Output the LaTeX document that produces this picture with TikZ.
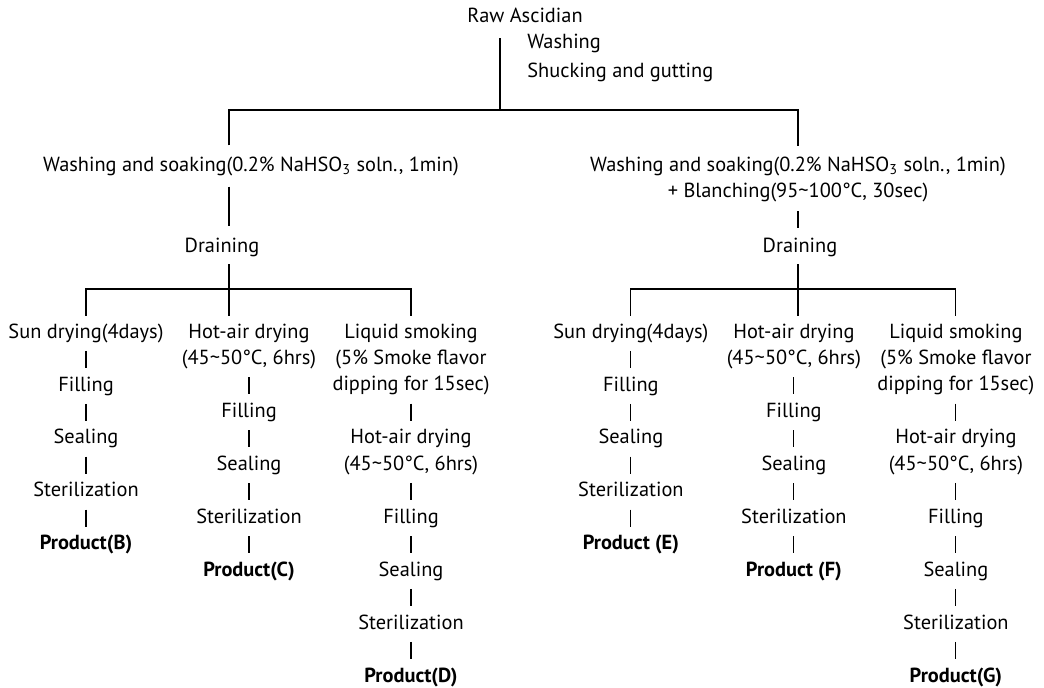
\documentclass[tikz,border=0pt]{standalone}
\usepackage{fontspec}
\setmainfont{PT Sans}
\usepackage{tikz}
\usetikzlibrary{positioning,calc}
\newcommand{\stepfont}{\fontsize{11.6}{15}\selectfont}
\tikzset{
    stage/.style={inner sep=0pt, text height=8.4pt, text depth=2.6pt},
    stagebox/.style={inner sep=0pt, align=center},
    prod/.style={stage, font=\stepfont\bfseries},
    link/.style={line width=0.6pt},
    trim/.style={shorten <=#1, shorten >=#1},
    trim/.default=4.5pt
}

\begin{document}
\begin{tikzpicture}[x=0.02cm, y=-0.02cm, font=\stepfont]
    \useasboundingbox (0,0) rectangle (1044,687);

    % Start: raw ascidian
    \node[stage] (raw) at (525,17) {Raw Ascidian};
    \node[stage, anchor=west] (wash) at (527,43) {Washing};
    \node[stage, anchor=west] (shuck) at (527,72) {Shucking and gutting};

    % Main split
    \coordinate (split) at (500,110);
    \coordinate (spL) at (229,110);
    \coordinate (spR) at (798,110);
    \node[stage] (wsL) at (251,166) {Washing and soaking(0.2\% NaHSO\textsubscript{3} soln., 1min)};
    \node[stagebox] (wsR) at (798,179.5) {Washing and soaking(0.2\% NaHSO\textsubscript{3} soln., 1min)\\+ Blanching(95\textasciitilde 100°C, 30sec)};
    \draw[link, shorten <=6.5pt] (raw.south -| split) -- (split);
    \draw[link, trim=6pt] (wsL.north -| spL) -- (spL) -- (spR) -- (wsR.north -| spR);

    % Draining
    \node[stage] (drL) at (222,247) {Draining};
    \node[stage] (drR) at (800,247) {Draining};
    \draw[link, trim=6pt] (wsL.south -| spL) -- (drL.north -| spL);
    \draw[link, trim=5pt] (wsR.south -| spR) -- (drR.north -| spR);
    \coordinate (barL) at (229,289);
    \coordinate (barR) at (798,289);

    % Left: no blanching
    \begin{scope}
        \node[stage] (sunB) at (86,333) {Sun drying(4days)};
        \node[stage] (fillB) at (86,386) {Filling};
        \node[stage] (sealB) at (86,438.8) {Sealing};
        \node[stage] (sterB) at (86,491.7) {Sterilization};
        \node[prod] (prodB) at (86,544.6) {Product(B)};
        \node[stagebox] (hotC) at (249,346.2) {Hot-air drying\\(45\textasciitilde 50°C, 6hrs)};
        \node[stage] (fillC) at (249,412.3) {Filling};
        \node[stage] (sealC) at (249,465.3) {Sealing};
        \node[stage] (sterC) at (249,518.2) {Sterilization};
        \node[prod] (prodC) at (249,571) {Product(C)};
        \node[stagebox] (smokeD) at (411,359.5) {Liquid smoking\\(5\% Smoke flavor\\dipping for 15sec)};
        \node[stagebox] (hotD) at (411,452) {Hot-air drying\\(45\textasciitilde 50°C, 6hrs)};
        \node[stage] (fillD) at (411,518.2) {Filling};
        \node[stage] (sealD) at (411,571) {Sealing};
        \node[stage] (sterD) at (411,624) {Sterilization};
        \node[prod] (prodD) at (411,676.9) {Product(D)};
    \end{scope}
    \draw[link, trim=4pt] (drL.south -| spL) -- (hotC.north -| spL);
    \draw[link, trim=4pt] (sunB.north) |- (barL) -| (smokeD.north);
    \draw[link, trim] (sunB) edge (fillB) (fillB) edge (sealB) (sealB) edge (sterB) (sterB) edge (prodB);
    \draw[link, trim] (hotC) edge (fillC) (fillC) edge (sealC) (sealC) edge (sterC) (sterC) edge (prodC);
    \draw[link, trim] (smokeD) edge (hotD) (hotD) edge (fillD) (fillD) edge (sealD) (sealD) edge (sterD) (sterD) edge (prodD);

    % Right: with blanching
    \begin{scope}[xshift=10.9cm]
        \node[stage] (sunE) at (86,333) {Sun drying(4days)};
        \node[stage] (fillE) at (86,386) {Filling};
        \node[stage] (sealE) at (86,438.8) {Sealing};
        \node[stage] (sterE) at (86,491.7) {Sterilization};
        \node[prod] (prodE) at (86,544.6) {Product (E)};
        \node[stagebox] (hotF) at (249,346.2) {Hot-air drying\\(45\textasciitilde 50°C, 6hrs)};
        \node[stage] (fillF) at (249,412.3) {Filling};
        \node[stage] (sealF) at (249,465.3) {Sealing};
        \node[stage] (sterF) at (249,518.2) {Sterilization};
        \node[prod] (prodF) at (249,571) {Product (F)};
        \node[stagebox] (smokeG) at (411,359.5) {Liquid smoking\\(5\% Smoke flavor\\dipping for 15sec)};
        \node[stagebox] (hotG) at (411,452) {Hot-air drying\\(45\textasciitilde 50°C, 6hrs)};
        \node[stage] (fillG) at (411,518.2) {Filling};
        \node[stage] (sealG) at (411,571) {Sealing};
        \node[stage] (sterG) at (411,624) {Sterilization};
        \node[prod] (prodG) at (411,676.9) {Product(G)};
    \end{scope}
    \draw[link, trim=4pt] (drR.south -| spR) -- (hotF.north -| spR);
    \draw[link, trim=4pt] (sunE.north) |- (barR) -| (smokeG.north);
    \draw[link, trim] (sunE) edge (fillE) (fillE) edge (sealE) (sealE) edge (sterE) (sterE) edge (prodE);
    \draw[link, trim] (hotF) edge (fillF) (fillF) edge (sealF) (sealF) edge (sterF) (sterF) edge (prodF);
    \draw[link, trim] (smokeG) edge (hotG) (hotG) edge (fillG) (fillG) edge (sealG) (sealG) edge (sterG) (sterG) edge (prodG);
\end{tikzpicture}
\end{document}
